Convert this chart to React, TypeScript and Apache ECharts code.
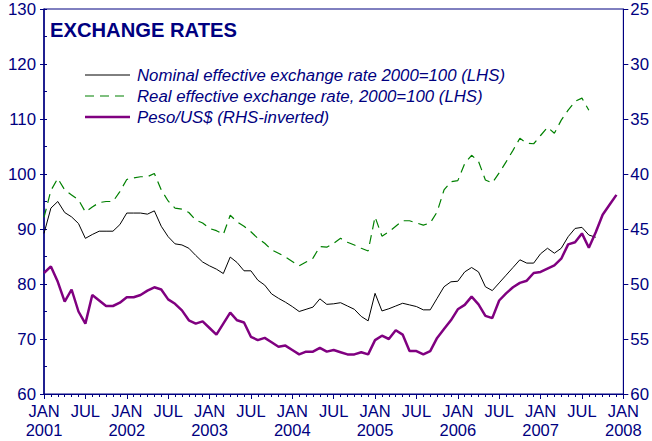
import React, { useEffect, useRef } from "react";
import * as echarts from "echarts";

const START_YEAR = 2001;
const MONTHS = 84;

// Nominal effective exchange rate, 2000=100 (LHS), monthly from Jan 2001
const nominal: number[] = [
  89.2, 93.8, 95.0, 93.0, 92.2, 91.0, 88.3, 89.0, 89.6, 89.6, 89.6, 90.8,
  92.9, 92.9, 92.9, 92.7, 93.3, 90.5, 88.6, 87.3, 87.1, 86.5, 85.2, 84.0,
  83.3, 82.7, 81.9, 84.9, 83.9, 82.4, 82.4, 80.7, 79.8, 78.2, 77.4, 76.7,
  75.9, 75.0, 75.4, 75.8, 77.3, 76.3, 76.4, 76.6, 76.0, 75.4, 74.1, 73.3,
  78.3, 75.1, 75.5, 76.0, 76.5, 76.2, 75.9, 75.3, 75.3, 77.4, 79.5, 80.4,
  80.5, 82.2, 83.0, 82.2, 79.5, 78.8, 80.2, 81.6, 83.0, 84.4, 83.8, 83.8,
  85.5, 86.5, 85.6, 86.5, 88.6, 90.1, 90.3, 88.9, 88.5,
];

// Real effective exchange rate, 2000=100 (LHS)
const real: number[] = [
  92.1, 97.0, 99.2, 97.1, 96.2, 95.3, 93.1, 94.0, 94.8, 95.0, 95.0, 96.8,
  99.0, 99.3, 99.5, 99.5, 100.1, 97.1, 95.1, 93.8, 93.6, 93.0, 91.6, 91.1,
  90.1, 89.7, 89.0, 92.5, 91.3, 90.5, 89.5, 88.3, 87.4, 86.2, 85.6, 84.9,
  84.1, 83.3, 84.0, 84.7, 86.8, 86.7, 87.4, 88.3, 87.6, 87.1, 86.5, 86.0,
  92.2, 88.7, 89.5, 90.5, 91.5, 91.5, 91.1, 90.7, 91.1, 93.1, 97.1, 98.6,
  98.8, 101.9, 103.4, 102.3, 98.9, 98.4, 100.2, 102.2, 104.3, 106.5, 105.6, 105.5,
  107.0, 108.5, 107.4, 109.8, 111.6, 113.2, 113.8, 111.6,
];

// Peso per US$ (RHS, inverted)
const peso: number[] = [
  49.0, 48.4, 49.8, 51.6, 50.5, 52.5, 53.6, 51.0, 51.5, 52.0, 52.0, 51.7,
  51.2, 51.2, 51.0, 50.6, 50.3, 50.5, 51.4, 51.8, 52.4, 53.3, 53.6, 53.4,
  54.0, 54.6, 53.6, 52.6, 53.3, 53.5, 54.8, 55.1, 54.9, 55.3, 55.7, 55.6,
  56.0, 56.4, 56.15, 56.15, 55.8, 56.15, 56.0, 56.2, 56.4, 56.4, 56.2, 56.4,
  55.1, 54.7, 55.0, 54.2, 54.6, 56.1, 56.1, 56.4, 56.1, 54.9, 54.1, 53.3,
  52.3, 51.9, 51.15, 51.85, 52.9, 53.1, 51.5, 50.85, 50.3, 49.9, 49.7, 49.0,
  48.9, 48.6, 48.3, 47.7, 46.4, 46.2, 45.4, 46.7, 45.3, 43.7, 42.8, 41.9,
];

const TITLE = "EXCHANGE RATES";
const LEGEND_LABELS = [
  "Nominal effective exchange rate 2000=100 (LHS)",
  "Real effective exchange rate, 2000=100 (LHS)",
  "Peso/US$ (RHS-inverted)",
];

const NAVY = "#000080";
const FONT = "'Liberation Sans', Arial, sans-serif";
const COLORS = ["#000000", "#008000", "#800080"];

const toPairs = (arr: number[]) => arr.map((v, i) => [i, v]);

export default function App() {
  const ref = useRef<HTMLDivElement>(null);

  useEffect(() => {
    if (!ref.current) return;
    const chart = echarts.init(ref.current, undefined, { renderer: "svg" });

    const legendRows = [75, 96, 117];
    const legendGraphics: any[] = [];
    legendRows.forEach((y, i) => {
      legendGraphics.push({
        type: "line",
        shape: { x1: 85, y1: y, x2: 130, y2: y },
        style: {
          stroke: COLORS[i],
          lineWidth: i === 2 ? 2.5 : i === 1 ? 1.2 : 1,
          lineDash: i === 1 ? [9, 6] : null,
        },
        z: 10,
      });
      legendGraphics.push({
        type: "text",
        x: 137,
        y: y,
        style: {
          text: LEGEND_LABELS[i],
          fill: NAVY,
          font: `italic 16.8px ${FONT}`,
          verticalAlign: "middle",
          align: "left",
        },
        z: 10,
      });
    });

    const option: any = {
      animation: false,
      backgroundColor: "#ffffff",
      grid: {
        left: 44,
        right: 28,
        top: 9,
        bottom: 47,
        show: true,
        borderColor: NAVY,
        borderWidth: 1,
        backgroundColor: "transparent",
      },
      xAxis: {
        type: "value",
        min: 0,
        max: MONTHS,
        interval: 6,
        axisLine: { show: true, lineStyle: { color: NAVY, width: 1 } },
        axisTick: { show: true, length: 5, lineStyle: { color: NAVY } },
        minorTick: { show: true, splitNumber: 6, length: 3, lineStyle: { color: NAVY } },
        splitLine: { show: false },
        minorSplitLine: { show: false },
        axisLabel: {
          color: NAVY,
          fontFamily: FONT,
          fontSize: 16.5,
          lineHeight: 18.5,
          margin: 8,
          verticalAlign: "top",
          formatter: (v: number) =>
            v % 12 === 0 ? `JAN\n${START_YEAR + v / 12}` : "JUL",
        },
      },
      yAxis: [
        {
          type: "value",
          position: "left",
          min: 60,
          max: 130,
          interval: 10,
          axisLine: { show: true, lineStyle: { color: NAVY, width: 1.5 } },
          axisTick: { show: true, length: 4, lineStyle: { color: NAVY } },
          splitLine: { show: false },
          axisLabel: { color: NAVY, fontFamily: FONT, fontSize: 16.8, margin: 8 },
        },
        {
          type: "value",
          position: "right",
          inverse: true,
          min: 25,
          max: 60,
          interval: 5,
          axisLine: { show: true, lineStyle: { color: NAVY, width: 1 } },
          axisTick: { show: true, length: 5, lineStyle: { color: NAVY } },
          splitLine: { show: false },
          axisLabel: { color: NAVY, fontFamily: FONT, fontSize: 16.8, margin: 7 },
        },
        {
          type: "value",
          position: "left",
          min: 60,
          max: 130,
          interval: 5,
          axisLine: { show: false },
          axisTick: { show: true, inside: true, length: 3, lineStyle: { color: NAVY } },
          splitLine: { show: false },
          axisLabel: { show: false },
        },
      ],
      series: [
        {
          name: LEGEND_LABELS[0],
          type: "line",
          yAxisIndex: 0,
          data: toPairs(nominal),
          showSymbol: false,
          symbol: "none",
          lineStyle: { color: COLORS[0], width: 1 },
          z: 3,
        },
        {
          name: LEGEND_LABELS[1],
          type: "line",
          yAxisIndex: 0,
          data: toPairs(real),
          showSymbol: false,
          symbol: "none",
          lineStyle: { color: COLORS[1], width: 1.2, type: [9, 6] },
          z: 3,
        },
        {
          name: LEGEND_LABELS[2],
          type: "line",
          yAxisIndex: 1,
          data: toPairs(peso),
          showSymbol: false,
          symbol: "none",
          lineStyle: { color: COLORS[2], width: 2.5 },
          z: 4,
        },
      ],
      graphic: [
        {
          type: "text",
          x: 50,
          y: 30,
          style: {
            text: TITLE,
            fill: NAVY,
            font: `bold 20.2px ${FONT}`,
            verticalAlign: "middle",
            align: "left",
          },
          z: 10,
        },
        ...legendGraphics,
      ],
    };

    chart.setOption(option);
    return () => chart.dispose();
  }, []);

  return (
    <div
      ref={ref}
      style={{ position: "fixed", left: 0, top: 0, width: 652, height: 441 }}
    />
  );
}
